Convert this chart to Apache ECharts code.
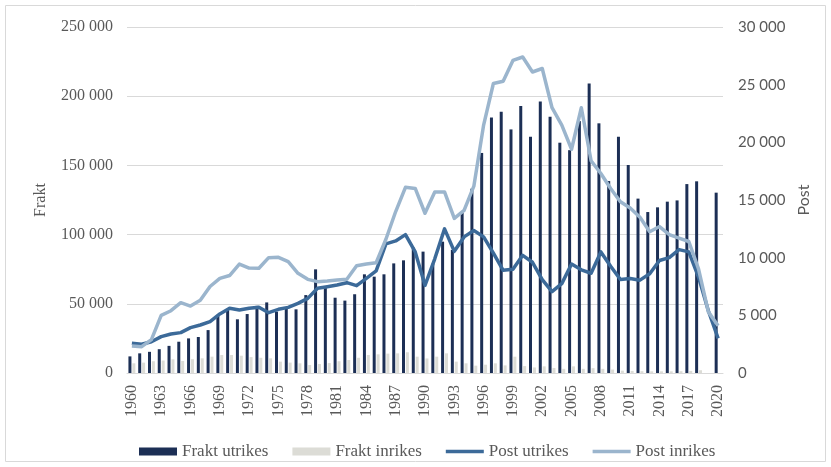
<!DOCTYPE html>
<html>
<head>
<meta charset="utf-8">
<script src="https://cdn.jsdelivr.net/npm/echarts@6/dist/echarts.min.js"></script>
<style>
  html, body { margin: 0; padding: 0; background: #fff; }
  #chart { width: 831px; height: 467px; }
</style>
</head>
<body>
<div id="chart"></div>
<script>
// år 1960–2020
const years = []
for (let y = 1960; y <= 2020; y++) years.push(String(y))

// Frakt (vänster axel)
const fraktUtrikes = [
  12000, 14200, 15300, 17200, 19600, 22600, 25000, 26000, 31000, 42000,
  46000, 38800, 42600, 48500, 51000, 44300, 46700, 46000, 56300, 74900,
  62400, 54400, 52300, 56900, 71300, 69600, 71300, 79200, 81400, 90600,
  87700, 79000, 94900, 88900, 115600, 133200, 159000, 184600, 188800, 176000,
  193000, 170700, 196200, 185200, 166400, 161000, 182000, 209200, 180400, 138700,
  170700, 150300, 126000, 116300, 119700, 123800, 124700, 136500, 138500, '-',
  130300
]
const fraktInrikes = [
  7000, 7500, 8500, 9000, 9900, 8700, 10000, 10600, 11800, 13000,
  13000, 12500, 11500, 11000, 10600, 8200, 7500, 7000, 5800, 6500,
  7200, 8500, 9400, 11000, 13000, 13500, 14000, 14200, 15000, 11800,
  10500, 11800, 14200, 8200, 7000, 5300, 6000, 7000, 5500, 11800,
  5000, 4000, 4800, 3600, 3000, 4800, 3000, 3500, 3000, 2500,
  1700, 1500, 1300, 1200, 1200, 1200, 1300, 1500, 2000, '-',
  '-'
]

// Post (höger axel)
const postUtrikes = [
  2570, 2490, 2710, 3150, 3380, 3500, 3930, 4160, 4450, 5120,
  5610, 5460, 5610, 5700, 5230, 5520, 5690, 6040, 6470, 7340,
  7480, 7630, 7830, 7570, 8210, 8850, 11200, 11450, 12000, 10500,
  7600, 9900, 12500, 10550, 11800, 12350, 11800, 10400, 8900, 9000,
  10200, 9600, 8100, 7050, 7750, 9450, 8950, 8650, 10500, 9250,
  8100, 8200, 8050, 8600, 9750, 10000, 10700, 10500, 8300, 5400,
  3000
]
const postInrikes = [
  2340, 2280, 2900, 5000, 5400, 6100, 5800, 6300, 7500, 8200,
  8450, 9450, 9100, 9080, 10000, 10030, 9650, 8640, 8120, 7920,
  7980, 8060, 8120, 9300, 9450, 9560, 11600, 14000, 16100, 16000,
  13850, 15700, 15700, 13400, 14100, 16200, 21500, 25100, 25300, 27100,
  27400, 26100, 26400, 23000, 21500, 19400, 23000, 18400, 17300, 16000,
  14850, 14300, 13500, 12250, 12700, 12000, 11700, 11400, 9000, 5300,
  4100
]

const leftTicks = { min: 0, max: 250000, interval: 50000 }
const rightTicks = { min: 0, max: 30000, interval: 5000 }

function thousands(v) {
  return String(v).replace(/\B(?=(\d{3})+(?!\d))/g, ' ')
}

const serif = 'Liberation Serif'
const grey = '#595959'
// tunn linje i legenden (osynliga punkter håller höjden 8)
const lineIcon = 'path://M0,0L0,0M0,2.2L38,2.2L38,5.8L0,5.8ZM38,8L38,8'

const myChart = echarts.init(document.getElementById('chart'))
myChart.setOption({
  animation: false,
  graphic: [{
    type: 'rect',
    shape: { x: 5.5, y: 5.5, width: 820, height: 456 },
    style: { fill: 'none', stroke: '#d9d9d9', lineWidth: 1 },
    silent: true
  }],
  grid: { left: 127, right: 108, top: 27, bottom: 94 },
  legend: {
    left: 134,
    top: 438,
    itemWidth: 38,
    itemHeight: 8,
    itemGap: 24,
    textStyle: { fontFamily: serif, fontSize: 17, color: grey },
    data: [
      { name: 'Frakt utrikes', icon: 'rect' },
      { name: 'Frakt inrikes', icon: 'rect' },
      { name: 'Post utrikes', icon: lineIcon },
      { name: 'Post inrikes', icon: lineIcon }
    ]
  },
  xAxis: {
    type: 'category',
    data: years,
    axisTick: { show: false },
    axisLine: { lineStyle: { color: '#d9d9d9', width: 1 } },
    axisLabel: {
      interval: 2,
      rotate: 90,
      margin: 12,
      fontFamily: serif,
      fontSize: 16,
      color: grey
    }
  },
  yAxis: [
    {
      type: 'value',
      min: leftTicks.min,
      max: leftTicks.max,
      interval: leftTicks.interval,
      name: 'Frakt',
      nameLocation: 'middle',
      nameRotate: 90,
      nameGap: 78,
      nameTextStyle: { fontFamily: serif, fontSize: 16, color: grey },
      axisLine: { show: false },
      axisTick: { show: false },
      axisLabel: {
        margin: 14,
        fontFamily: serif,
        fontSize: 16,
        color: grey,
        formatter: thousands
      },
      splitLine: { lineStyle: { color: '#d9d9d9', width: 1 } }
    },
    {
      type: 'value',
      min: rightTicks.min,
      max: rightTicks.max,
      interval: rightTicks.interval,
      name: 'Post',
      nameLocation: 'middle',
      nameRotate: 90,
      nameGap: 66,
      nameTextStyle: { fontFamily: 'Lato', fontSize: 16, color: grey },
      axisLine: { show: false },
      axisTick: { show: false },
      axisLabel: {
        margin: 15,
        fontFamily: 'Lato',
        fontSize: 15,
        color: grey,
        formatter: thousands
      },
      splitLine: { show: false }
    }
  ],
  series: [
    {
      name: 'Frakt utrikes',
      type: 'bar',
      data: fraktUtrikes,
      barWidth: 3,
      barGap: '30%',
      itemStyle: { color: '#1c2f55' }
    },
    {
      name: 'Frakt inrikes',
      type: 'bar',
      data: fraktInrikes,
      barWidth: 3,
      itemStyle: { color: '#dcdcd6' }
    },
    {
      name: 'Post utrikes',
      type: 'line',
      yAxisIndex: 1,
      data: postUtrikes,
      symbol: 'none',
      lineStyle: { color: '#3c6a99', width: 3.5, join: 'round' },
      itemStyle: { color: '#3c6a99' }
    },
    {
      name: 'Post inrikes',
      type: 'line',
      yAxisIndex: 1,
      data: postInrikes,
      symbol: 'none',
      lineStyle: { color: '#9bb5cd', width: 3.5, join: 'round' },
      itemStyle: { color: '#9bb5cd' }
    }
  ]
})
</script>
</body>
</html>
